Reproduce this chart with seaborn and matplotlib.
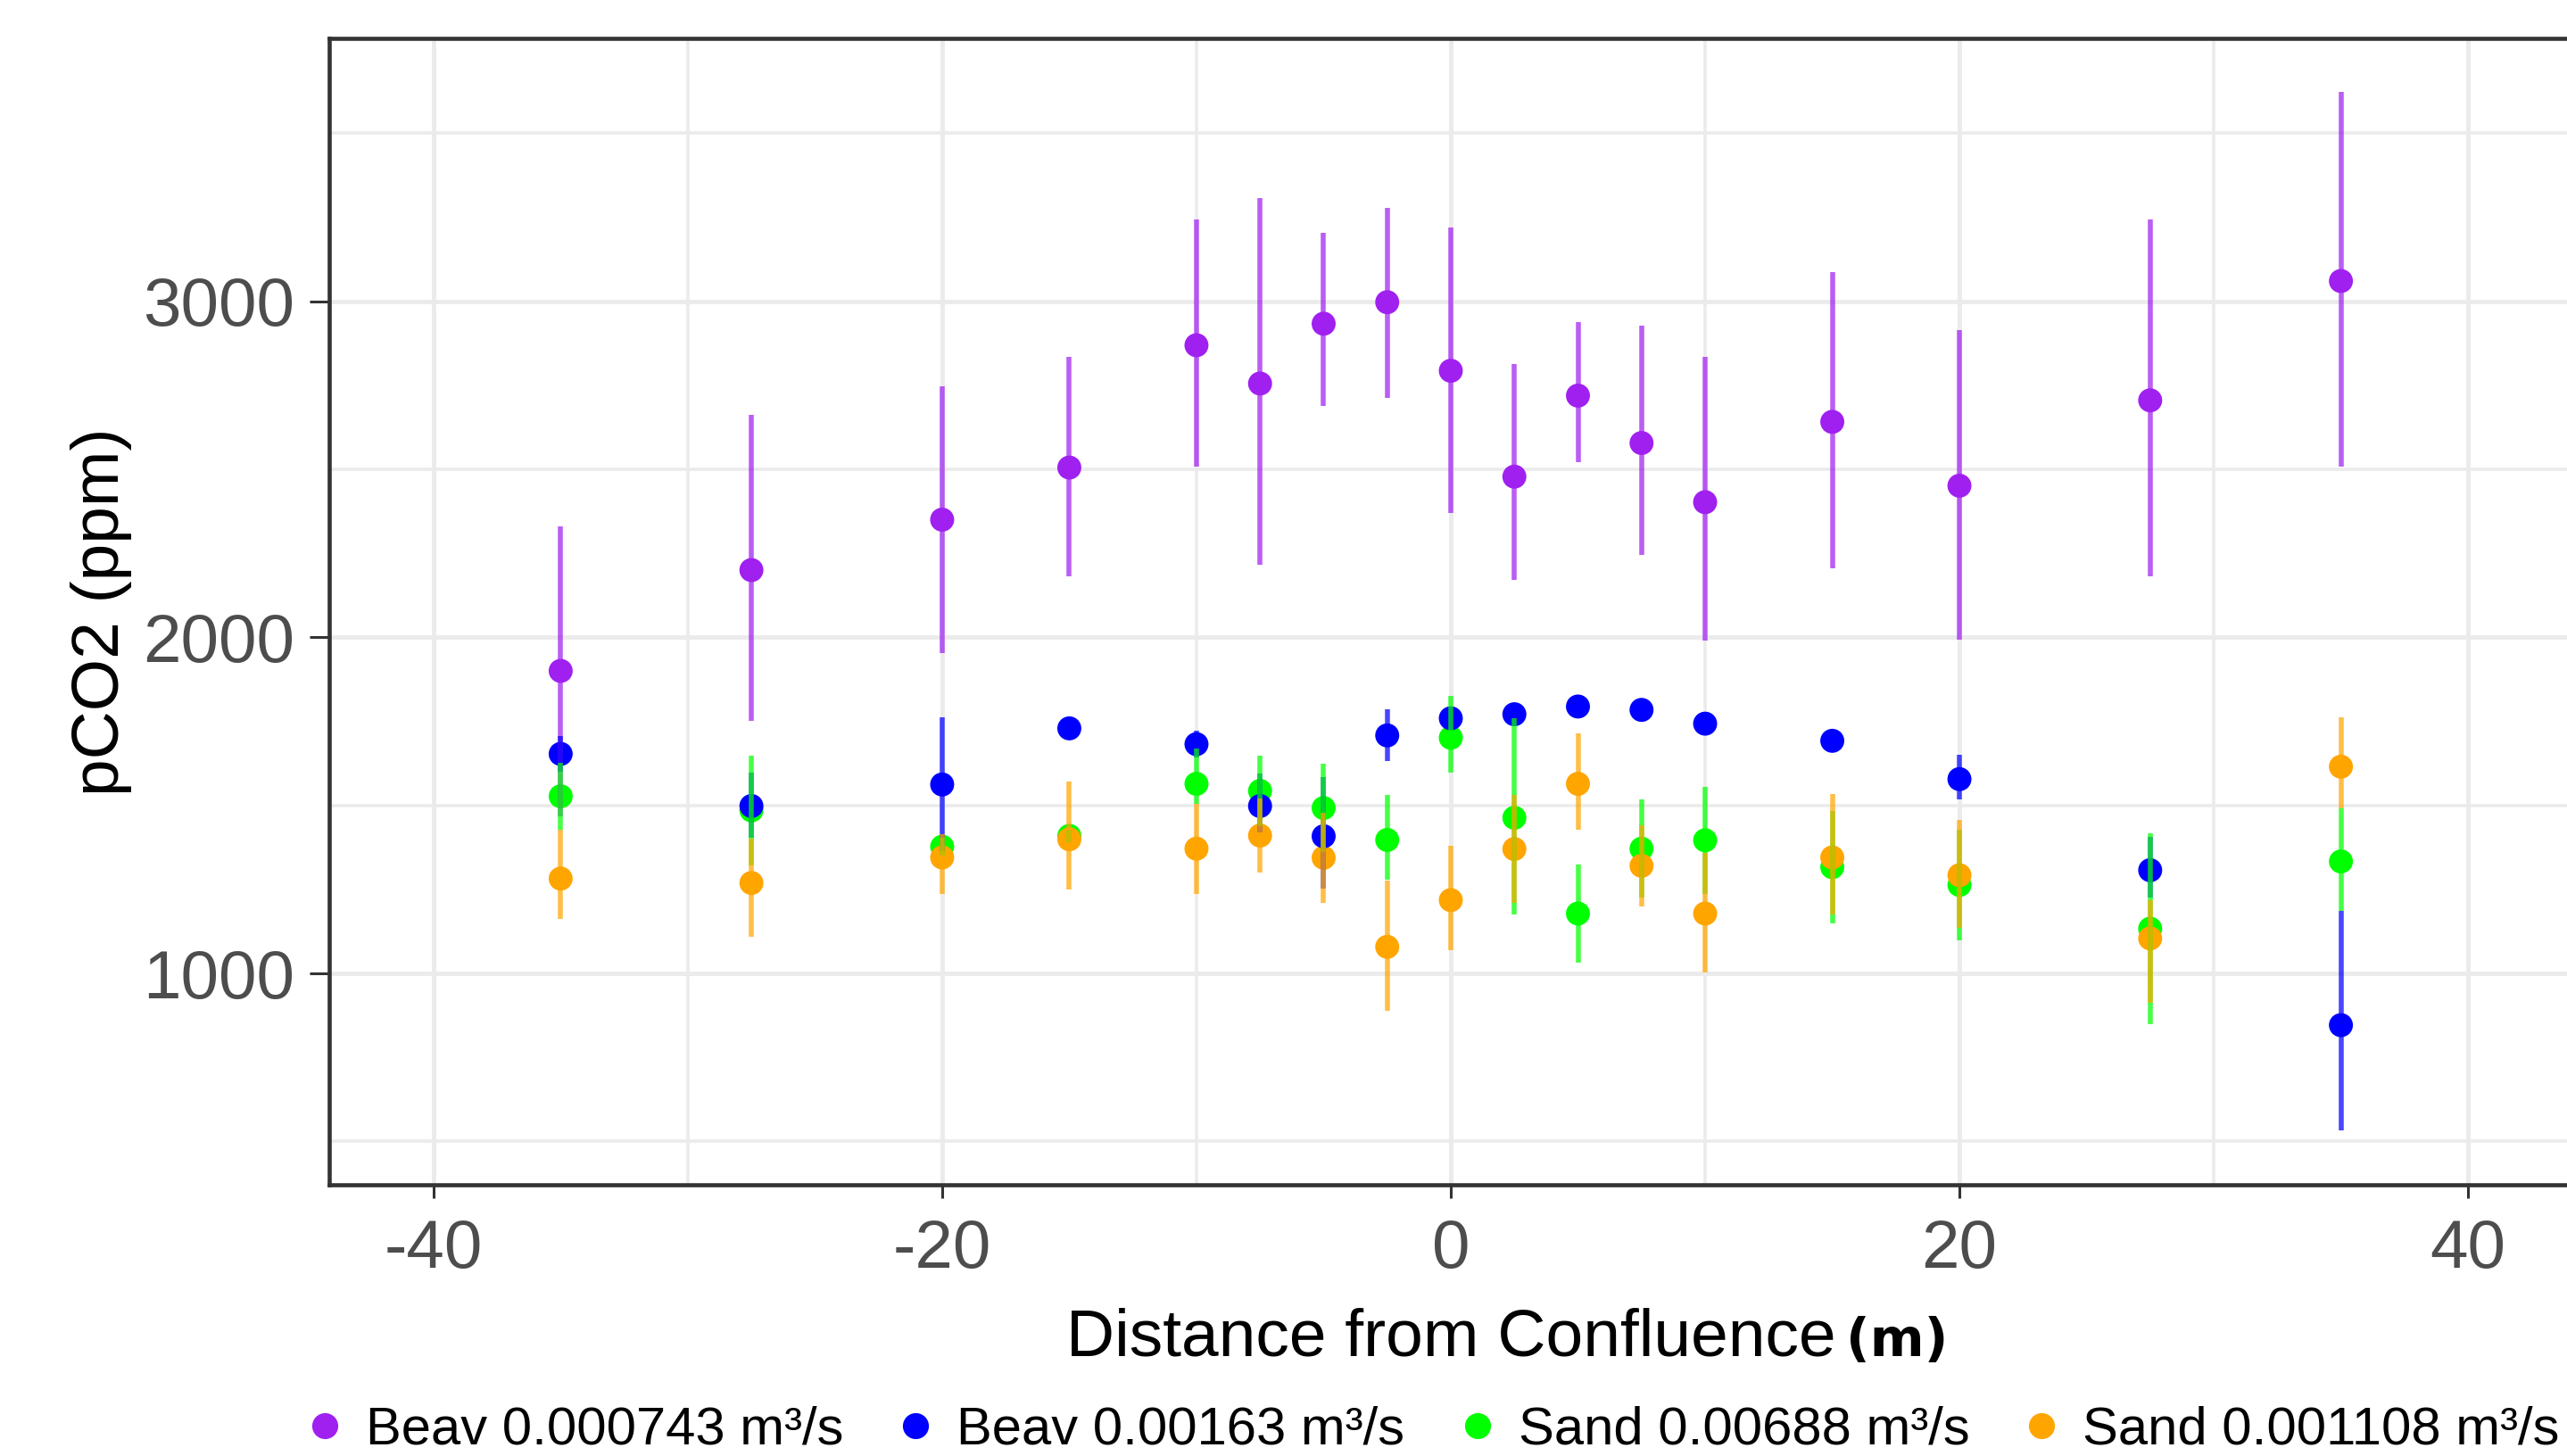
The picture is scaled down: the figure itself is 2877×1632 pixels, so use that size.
import numpy as np
import pandas as pd
import matplotlib
matplotlib.use("Agg")
import matplotlib.pyplot as plt
import seaborn as sns
from matplotlib.ticker import FixedLocator

# ---------------- data ----------------
distance = [-35, -27.5, -20, -15, -10, -7.5, -5, -2.5, 0, 2.5, 5, 7.5, 10, 15, 20, 27.5, 35]

series_names = ["Beav 0.000743 m³/s", "Beav 0.00163 m³/s",
                "Sand 0.00688 m³/s", "Sand 0.001108 m³/s"]
series_colors = ["#A020F0", "#0000FF", "#00FF00", "#FFA500"]

beav1_mean = [1900, 2200, 2350, 2505, 2869, 2755, 2933, 2997, 2793, 2478, 2719, 2578, 2402, 2641, 2451, 2705, 3060]
beav1_low = [1466, 1750, 1952, 2181, 2509, 2217, 2688, 2711, 2371, 2170, 2521, 2244, 1989, 2206, 1993, 2181, 2509]
beav1_high = [2331, 2663, 2748, 2835, 3244, 3308, 3203, 3278, 3218, 2813, 2938, 2926, 2835, 3087, 2913, 3244, 3622]

beav2_mean = [1653, 1498, 1562, 1729, 1682, 1498, 1408, 1708, 1759, 1771, 1794, 1784, 1743, 1692, 1578, 1307, 846]
beav2_low = [1600, 1403, 1364, 1715, 1642, 1419, 1251, 1632, 1730, 1755, 1780, 1770, 1728, 1678, 1517, 1225, 532]
beav2_high = [1705, 1597, 1761, 1745, 1722, 1596, 1583, 1785, 1790, 1787, 1808, 1798, 1758, 1706, 1650, 1405, 1187]

sand1_mean = [1527, 1485, 1377, 1409, 1564, 1543, 1492, 1397, 1701, 1463, 1178, 1371, 1396, 1316, 1263, 1133, 1333]
sand1_low = [1428, 1322, 1350, 1390, 1504, 1437, 1361, 1278, 1598, 1174, 1031, 1225, 1237, 1148, 1098, 850, 1187]
sand1_high = [1626, 1648, 1404, 1428, 1670, 1649, 1623, 1532, 1826, 1759, 1324, 1517, 1555, 1484, 1428, 1416, 1492]

sand2_mean = [1282, 1269, 1345, 1399, 1371, 1410, 1344, 1079, 1218, 1370, 1564, 1320, 1178, 1345, 1292, 1104, 1615]
sand2_low = [1161, 1110, 1237, 1250, 1237, 1300, 1211, 888, 1070, 1210, 1428, 1199, 1002, 1174, 1136, 913, 1492]
sand2_high = [1428, 1400, 1415, 1570, 1504, 1520, 1477, 1276, 1380, 1530, 1714, 1441, 1358, 1534, 1456, 1218, 1761]

x_major = [-40, -20, 0, 20, 40]
x_minor = [-30, -10, 10, 30]
y_major = [1000, 2000, 3000]
y_minor = [500, 1500, 2500, 3500]

# ---------------- build table ----------------
means = [beav1_mean, beav2_mean, sand1_mean, sand2_mean]
lows = [beav1_low, beav2_low, sand1_low, sand2_low]
highs = [beav1_high, beav2_high, sand1_high, sand2_high]
frames = []
for name, m, lo, hi in zip(series_names, means, lows, highs):
    frames.append(pd.DataFrame({"distance": distance, "pco2": m, "low": lo,
                                "high": hi, "series": name}))
df_all = {f["series"].iloc[0]: f for f in frames}
palette = dict(zip(series_names, series_colors))

# point drawing order (later = on top)
point_order = [series_names[0], series_names[2], series_names[3], series_names[1]]
df_points = pd.concat([df_all[n] for n in point_order], ignore_index=True)
# error bar drawing order
bar_order = [series_names[0], series_names[1], series_names[2], series_names[3]]

# ---------------- style ----------------
sns.set_theme(style="white")
plt.rcParams["font.family"] = ["Liberation Sans", "DejaVu Sans"]
plt.rcParams["axes.unicode_minus"] = False

W, H = 2877, 1632
fig = plt.figure(figsize=(W / 100, H / 100), dpi=100)
fig.patch.set_facecolor("white")
ax = fig.add_axes([369 / W, (H - 1328) / H, (2883 - 369) / W, (1328 - 43) / H])
ax.set_facecolor("white")

sns.scatterplot(data=df_points, x="distance", y="pco2", hue="series",
                hue_order=series_names, palette=palette, s=375,
                linewidth=0, edgecolor="none", ax=ax, zorder=3)

for name in bar_order:
    d = df_all[name]
    ax.vlines(d["distance"], d["low"], d["high"], colors=palette[name],
              linewidth=4.0, alpha=0.72, zorder=4)

ax.set_xlim(-44.1, 44.1)
ax.set_ylim(371, 3782)
ax.xaxis.set_major_locator(FixedLocator(x_major))
ax.xaxis.set_minor_locator(FixedLocator(x_minor))
ax.yaxis.set_major_locator(FixedLocator(y_major))
ax.yaxis.set_minor_locator(FixedLocator(y_minor))
ax.set_xticklabels([str(v) for v in x_major])
ax.set_yticklabels([str(v) for v in y_major])

ax.grid(which="major", color="#EBEBEB", linewidth=3.5)
ax.grid(which="minor", color="#EBEBEB", linewidth=2.6)
ax.set_axisbelow(True)

ax.tick_params(axis="x", which="major", length=11, width=2.2, color="#333333",
               labelsize=55, labelcolor="#4D4D4D", pad=16, bottom=True)
ax.tick_params(axis="y", which="major", length=16, width=2.2, color="#333333",
               labelsize=55, labelcolor="#4D4D4D", pad=12, left=True)
ax.tick_params(which="minor", length=0)

for sp in ax.spines.values():
    sp.set_visible(True)
    sp.set_color("#333333")
    sp.set_linewidth(3.3)

ax.set_ylabel("pCO2 (ppm)", fontsize=54, color="black")
ax.yaxis.set_label_coords(-0.0879, 0.5)
ax.set_xlabel("Distance from Confluence", fontsize=54, color="black")
ax.xaxis.set_label_coords(0.5, -(1520 - 1328) / (1328 - 43))
ax.xaxis.label.set_va("baseline")

# legend
sns.move_legend(ax, loc="center", bbox_to_anchor=(0.5587, 0.0175),
                bbox_transform=fig.transFigure, ncol=4, frameon=False,
                title=None, fontsize=43, handletextpad=0.47, handlelength=0.6,
                columnspacing=1.06, borderpad=0, borderaxespad=0)
leg = ax.get_legend()
for h in leg.legend_handles:
    try:
        h.set_markersize(21)
    except AttributeError:
        h.set_sizes([441])
    try:
        h.set_alpha(1)
    except Exception:
        pass
for t in leg.get_texts():
    t.set_color("black")

fig.canvas.draw()
bb = ax.xaxis.label.get_window_extent()
fig.text((bb.x1 + 12) / W, 1 - 1520 / H, "(m)", fontsize=42, fontweight="bold",
         family="DejaVu Sans", va="baseline", ha="left", color="black")

fig.savefig("out.png", dpi=100, facecolor="white")
